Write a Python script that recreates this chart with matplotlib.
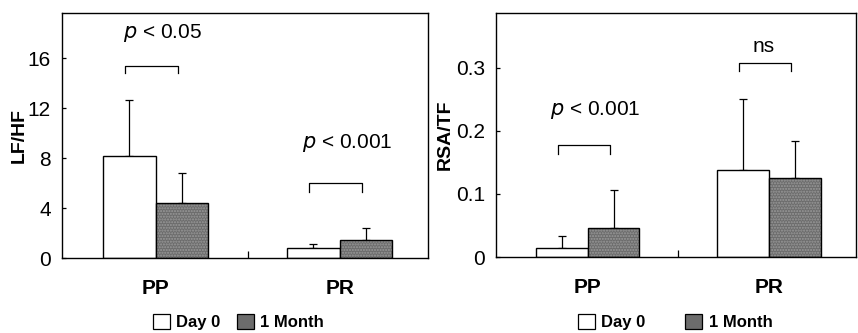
import numpy as np
import matplotlib.pyplot as plt
from matplotlib.patches import Patch

groups = ["PP", "PR"]
series = ["Day 0", "1 Month"]

# LF/HF panel
lfhf_day0 = [8.2, 0.82]
lfhf_day0_sd = [4.45, 0.3]
lfhf_month = [4.4, 1.44]
lfhf_month_sd = [2.4, 0.95]

# RSA/TF panel
rsa_day0 = [0.014, 0.138]
rsa_day0_sd = [0.020, 0.113]
rsa_month = [0.0465, 0.125]
rsa_month_sd = [0.060, 0.059]

lfhf_labels = ["p < 0.05", "p < 0.001"]
rsa_labels = ["p < 0.001", "ns"]

plt.rcParams['font.family'] = ['Liberation Sans', 'DejaVu Sans']

fig = plt.figure(figsize=(8.58, 3.33), dpi=100)
ax1 = fig.add_axes([0.0723, 0.2252, 0.4266, 0.7357])
ax2 = fig.add_axes([0.578, 0.2282, 0.4195, 0.733])

w = 0.285
x = np.arange(len(groups))


def draw_bars(ax, d0, d0sd, m, msd):
    ax.bar(x - w / 2, d0, w, color='white', edgecolor='black', linewidth=1.0, zorder=2)
    ax.bar(x + w / 2, m, w, color='#6c6c6c', edgecolor='#9a9a9a', hatch='......',
           linewidth=0, zorder=2)
    ax.bar(x + w / 2, m, w, fill=False, edgecolor='black', linewidth=1.0, zorder=3)
    ax.errorbar(x - w / 2, d0, yerr=[np.zeros(2), d0sd], fmt='none', ecolor='black',
                elinewidth=0.9, capsize=3, capthick=0.9, zorder=1)
    ax.errorbar(x + w / 2, m, yerr=[np.zeros(2), msd], fmt='none', ecolor='black',
                elinewidth=0.9, capsize=3, capthick=0.9, zorder=1)


def bracket(ax, xc, y, leg, label, ty):
    x0, x1 = xc - 0.165, xc + 0.12
    ax.plot([x0, x0, x1, x1], [y - leg, y, y, y - leg], color='black', lw=0.9)
    if label == "ns":
        ax.text(xc - 0.03, ty, label, ha='center', va='center', fontsize=15)
    else:
        ax.text(xc + 0.04, ty, "$p$" + label[1:], ha='center', va='center', fontsize=15)


def style(ax, ylim, yticks, yticklabels, ylabel, lp):
    ax.set_xlim(-0.508, 1.48)
    ax.set_ylim(0, ylim)
    ax.set_yticks(yticks)
    ax.set_yticklabels(yticklabels, fontsize=15)
    ax.set_xticks([0.5], minor=True)
    ax.set_xticks(x)
    ax.set_xticklabels(groups, fontsize=15, fontweight='bold')
    ax.tick_params(axis='x', which='major', length=0, pad=15)
    ax.tick_params(axis='x', which='minor', direction='in', length=5, width=0.9)
    ax.tick_params(axis='y', direction='in', length=3, width=0.9, pad=8)
    ax.set_ylabel(ylabel, fontsize=14, fontweight='bold', labelpad=lp)
    for s in ax.spines.values():
        s.set_linewidth(1.0)


draw_bars(ax1, lfhf_day0, lfhf_day0_sd, lfhf_month, lfhf_month_sd)
style(ax1, 19.6, [0, 4, 8, 12, 16], ["0", "4", "8", "12", "16"], "LF/HF", 0)
bracket(ax1, 0.0, 15.4, 0.6, lfhf_labels[0], 18.0)
bracket(ax1, 1.0, 6.0, 0.7, lfhf_labels[1], 9.2)

draw_bars(ax2, rsa_day0, rsa_day0_sd, rsa_month, rsa_month_sd)
style(ax2, 0.387, [0, 0.1, 0.2, 0.3], ["0", "0.1", "0.2", "0.3"], "RSA/TF", 1.5)
bracket(ax2, 0.0, 0.177, 0.014, rsa_labels[0], 0.233)
bracket(ax2, 1.0, 0.307, 0.012, rsa_labels[1], 0.333)

# legends below each panel
h = [Patch(facecolor='white', edgecolor='black', linewidth=0.9),
     Patch(facecolor='#6c6c6c', edgecolor='black', linewidth=0.9)]
fig.legend(h, series, loc='center', bbox_to_anchor=(0.278, 0.032), ncol=2, frameon=False,
           prop={'weight': 'bold', 'size': 12}, handlelength=1.0, handleheight=1.0,
           handletextpad=0.4, columnspacing=1.0, borderpad=0)
fig.legend(h, series, loc='center', bbox_to_anchor=(0.787, 0.032), ncol=2, frameon=False,
           prop={'weight': 'bold', 'size': 12}, handlelength=1.0, handleheight=1.0,
           handletextpad=0.4, columnspacing=2.4, borderpad=0)

fig.savefig("out.png", dpi=100)
